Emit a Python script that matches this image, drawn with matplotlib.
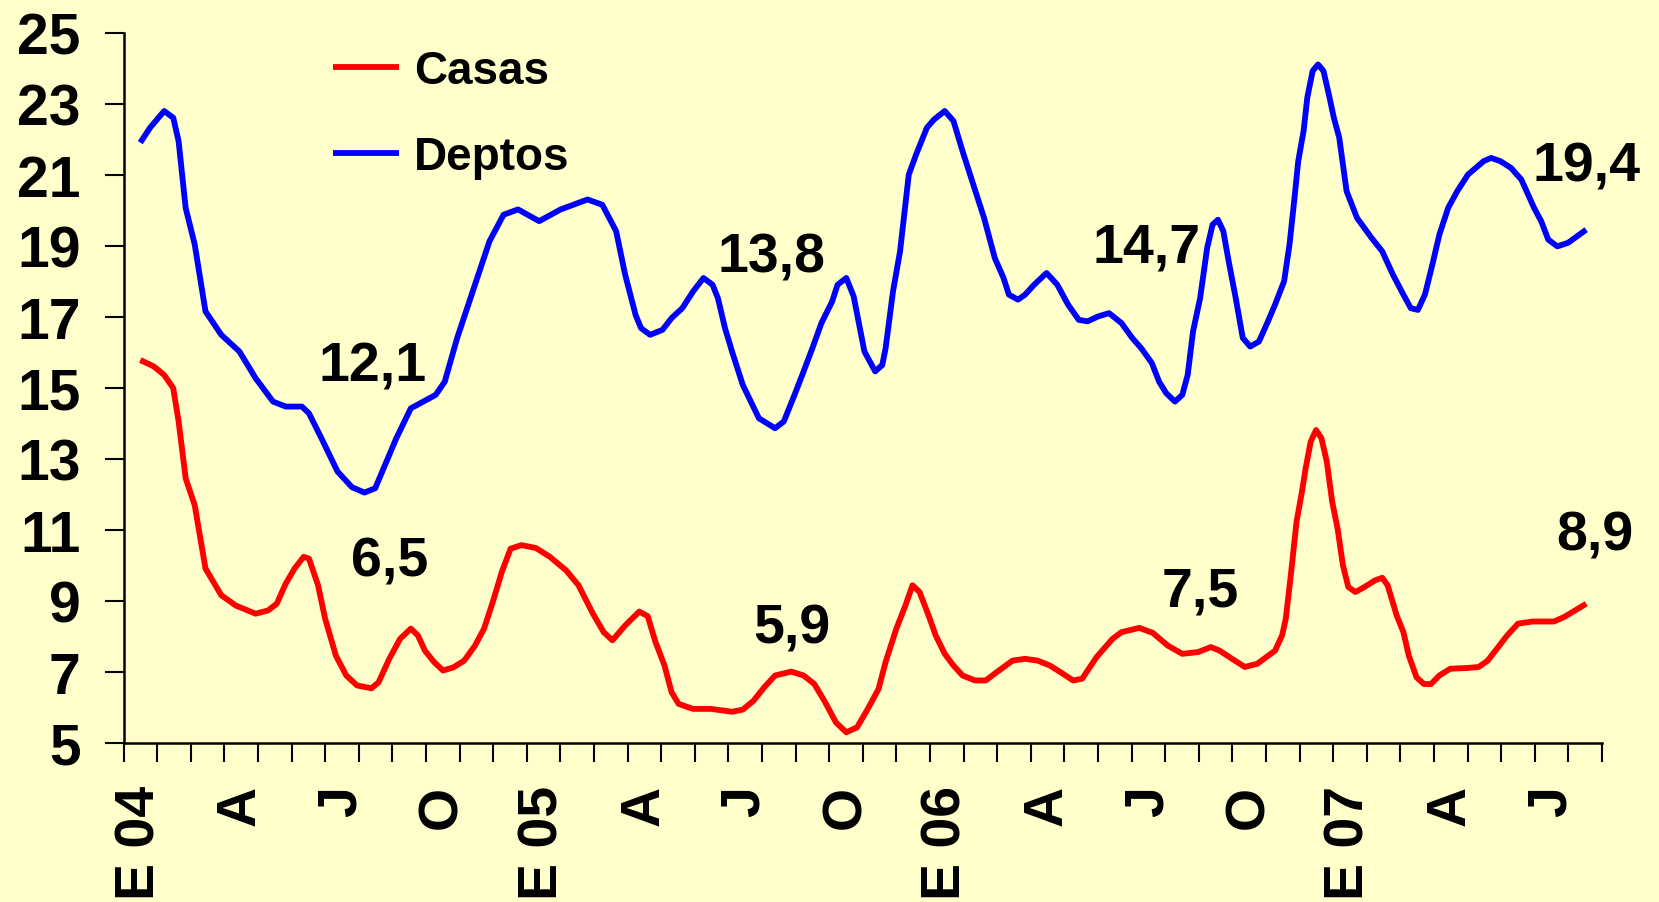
import numpy as np
import matplotlib
matplotlib.use("Agg")
import matplotlib.pyplot as plt

plt.rcParams['font.family'] = ['Liberation Sans', 'DejaVu Sans']
plt.rcParams['font.weight'] = 'bold'

# Month index (0 = Jan 2004, category centre) and value
deptos_m = [0.0, 0.29, 0.71, 0.98, 1.14, 1.35, 1.62, 1.94, 2.41, 2.95, 3.43, 3.95, 4.33, 4.81,
            5.02, 5.39, 5.87, 6.3, 6.67, 6.99, 7.62, 8.05, 8.79, 9.06, 9.43, 9.96, 10.39, 10.81,
            11.24, 11.87, 12.51, 13.31, 13.75, 14.16, 14.43, 14.74, 14.9, 15.17, 15.54, 15.81,
            16.13, 16.45, 16.76, 17.03, 17.19, 17.4, 17.61, 17.93, 18.41, 18.89, 19.15, 19.47,
            19.74, 20.0, 20.27, 20.59, 20.75, 21.01, 21.23, 21.55, 21.87, 22.08, 22.18, 22.4,
            22.61, 22.87, 23.09, 23.41, 23.62, 23.94, 24.2, 24.47, 24.79, 25.11, 25.43, 25.69,
            25.85, 26.12, 26.33, 26.6, 26.97, 27.29, 27.61, 27.93, 28.19, 28.51, 28.83, 29.2,
            29.52, 29.79, 30.1, 30.32, 30.53, 30.79, 31.01, 31.17, 31.33, 31.54, 31.75, 31.91,
            32.07, 32.23, 32.39, 32.6, 32.81, 33.03, 33.29, 33.56, 33.77, 34.04, 34.2, 34.35,
            34.46, 34.62, 34.73, 34.89, 35.05, 35.21, 35.37, 35.52, 35.68, 35.9, 36.21, 36.64,
            36.96, 37.28, 37.59, 37.81, 38.02, 38.23, 38.45, 38.66, 38.92, 39.19, 39.51, 39.98,
            40.2, 40.47, 40.79, 41.1, 41.48, 41.69, 41.9, 42.17, 42.49, 43.03]
deptos_v = [21.9, 22.32, 22.79, 22.6, 21.94, 20.06, 19.03, 17.15, 16.49, 16.02, 15.27, 14.61, 14.47, 14.47,
            14.28, 13.58, 12.64, 12.2, 12.05, 12.17, 13.58, 14.42, 14.8, 15.17, 16.4, 17.9, 19.12, 19.87,
            20.02, 19.69, 20.02, 20.3, 20.15, 19.41, 18.18, 17.05, 16.68, 16.49, 16.63, 16.96,
            17.24, 17.71, 18.09, 17.9, 17.52, 16.68, 16.02, 15.08, 14.14, 13.86, 14.05, 14.8,
            15.46, 16.11, 16.82, 17.43, 17.9, 18.09, 17.57, 16.02, 15.46, 15.64, 16.11, 17.71,
            18.84, 21.0, 21.57, 22.32, 22.55, 22.79, 22.51, 21.66, 20.72, 19.78, 18.65, 18.09,
            17.62, 17.48, 17.62, 17.9, 18.23, 17.9, 17.34, 16.91, 16.87, 17.01, 17.1, 16.82,
            16.4, 16.11, 15.7, 15.17, 14.85, 14.61, 14.8, 15.36, 16.59, 17.52, 18.94, 19.59,
            19.73, 19.41, 18.56, 17.52, 16.4, 16.16, 16.3, 16.87, 17.34, 18.0, 19.03, 20.35,
            21.38, 22.23, 23.17, 23.92, 24.1, 23.92, 23.26, 22.6, 22.04, 20.53, 19.78, 19.22,
            18.84, 18.18, 17.62, 17.24, 17.19, 17.62, 18.46, 19.31, 20.06, 20.53, 21.0, 21.38,
            21.47, 21.38, 21.19, 20.86, 20.06, 19.69, 19.17, 18.98, 19.08, 19.45]

casas_m = [0.0, 0.4, 0.71, 0.98, 1.14, 1.35, 1.62, 1.94, 2.41, 2.84, 3.43, 3.8, 4.06, 4.33, 4.59,
           4.86, 5.02, 5.29, 5.5, 5.82, 6.13, 6.45, 6.88, 7.09, 7.41, 7.73, 8.05, 8.26, 8.47,
           8.74, 9.01, 9.32, 9.64, 9.96, 10.23, 10.49, 10.76, 11.02, 11.34, 11.77, 12.19, 12.67,
           13.04, 13.47, 13.79, 14.05, 14.43, 14.85, 15.1, 15.33, 15.6, 15.81, 16.02, 16.45,
           16.98, 17.61, 17.93, 18.25, 18.57, 18.89, 19.37, 19.74, 20.06, 20.38, 20.7, 21.01,
           21.33, 21.65, 21.97, 22.18, 22.5, 22.77, 22.98, 23.19, 23.46, 23.67, 23.94, 24.2,
           24.47, 24.84, 25.16, 25.48, 25.96, 26.33, 26.7, 27.07, 27.39, 27.76, 28.03, 28.46,
           28.93, 29.2, 29.73, 30.13, 30.58, 31.01, 31.48, 31.86, 32.12, 32.49, 32.87, 33.24,
           33.77, 33.98, 34.09, 34.25, 34.41, 34.57, 34.68, 34.83, 34.99, 35.15, 35.31, 35.47,
           35.63, 35.79, 35.95, 36.16, 36.43, 36.75, 36.96, 37.12, 37.39, 37.59, 37.75, 37.98,
           38.2, 38.41, 38.66, 38.98, 39.46, 39.83, 40.1, 40.37, 40.68, 41.0, 41.43, 42.07,
           42.38, 43.03]
casas_v = [15.78, 15.6, 15.36, 14.99, 14.05, 12.45, 11.69, 9.91, 9.16, 8.87, 8.64, 8.73, 8.92, 9.49, 9.91,
           10.24, 10.19, 9.44, 8.5, 7.46, 6.9, 6.62, 6.54, 6.71, 7.37, 7.93, 8.22, 8.03, 7.6,
           7.28, 7.04, 7.13, 7.32, 7.74, 8.22, 8.97, 9.82, 10.47, 10.57, 10.49, 10.24, 9.86,
           9.44, 8.64, 8.12, 7.89, 8.31, 8.7, 8.57, 7.85, 7.18, 6.43, 6.1, 5.96,
           5.96, 5.88, 5.94, 6.19, 6.57, 6.9, 7.01, 6.9, 6.66, 6.15, 5.58, 5.3,
           5.44, 5.96, 6.52, 7.28, 8.22, 8.87, 9.44, 9.25, 8.59, 8.03, 7.51, 7.18,
           6.9, 6.76, 6.76, 6.99, 7.32, 7.37, 7.32, 7.18, 6.99, 6.76, 6.81, 7.42,
           7.93, 8.12, 8.24, 8.1, 7.74, 7.51, 7.56, 7.7, 7.6, 7.37, 7.14, 7.23,
           7.6, 8.03, 8.5, 9.82, 11.23, 12.07, 12.73, 13.48, 13.81, 13.58, 12.92, 11.79,
           11.04, 10.0, 9.39, 9.25, 9.39, 9.58, 9.65, 9.44, 8.59, 8.12, 7.46, 6.85,
           6.66, 6.66, 6.9, 7.09, 7.11, 7.14, 7.32, 7.65, 8.03, 8.36, 8.42, 8.42,
           8.55, 8.92]

# Value labels: text, month position, value position
label_text = ['12,1', '13,8', '14,7', '19,4', '6,5', '5,9', '7,5', '8,9']
label_m = [6.9, 18.77, 29.96, 43.03, 7.43, 19.4, 31.54, 43.3]
label_v = [15.6, 18.68, 18.96, 21.22, 10.1, 8.22, 9.27, 10.84]

# Quarterly tick labels (month index -> label)
tick_pos = [0, 3, 6, 9, 12, 15, 18, 21, 24, 27, 30, 33, 36, 39, 42]
tick_lab = ['E 04', 'A', 'J', 'O', 'E 05', 'A', 'J', 'O', 'E 06', 'A', 'J', 'O', 'E 07', 'A', 'J']
n_months = 44

bg = '#FFFFCC'
fig = plt.figure(figsize=(16.59, 9.03), dpi=100, facecolor=bg)
ax = fig.add_axes([123.5 / 1659, 1 - 744 / 903, (1602 - 123.5) / 1659, (744 - 33.5) / 903])
ax.set_facecolor(bg)

ax.plot(casas_m, casas_v, color='#FF0000', lw=4.2, solid_joinstyle='round',
        solid_capstyle='butt', label='Casas')
ax.plot(deptos_m, deptos_v, color='#0000FF', lw=4.2, solid_joinstyle='round',
        solid_capstyle='butt', label='Deptos')

for t, m, v in zip(label_text, label_m, label_v):
    ax.text(m, v, t, fontsize=40, fontweight='bold', ha='center', va='center', clip_on=False)

ax.set_xlim(-0.5, n_months - 0.5)
ax.set_ylim(5, 25)

for s in ['top', 'right']:
    ax.spines[s].set_visible(False)
for s in ['left', 'bottom']:
    ax.spines[s].set_linewidth(1.8)
    ax.spines[s].set_color('black')

ax.set_yticks(np.arange(5, 26, 2))
ax.set_yticklabels([str(v) for v in range(5, 26, 2)])
ax.tick_params(axis='y', direction='out', length=14, width=1.5, pad=17, labelsize=41)

ax.set_xticks(np.arange(-0.5, n_months, 1))
ax.set_xticklabels([])
ax.tick_params(axis='x', which='major', direction='out', length=14, width=1.5)
ax.set_xticks(tick_pos, minor=True)
ax.set_xticklabels(tick_lab, minor=True, rotation=90, fontsize=40, fontweight='bold')
ax.tick_params(axis='x', which='minor', length=0, pad=30)
for lab in ax.get_yticklabels() + ax.get_xticklabels(minor=True):
    lab.set_fontweight('bold')

leg = ax.legend(loc='upper left', bbox_to_anchor=(333 / 1659, 1 - 50 / 903),
                bbox_transform=fig.transFigure, frameon=False, fontsize=33,
                handlelength=1.45, handletextpad=0.32, labelspacing=0.92,
                borderpad=0, borderaxespad=0)
for txt in leg.get_texts():
    txt.set_fontweight('bold')

fig.savefig('out.png', dpi=100, facecolor=bg)
